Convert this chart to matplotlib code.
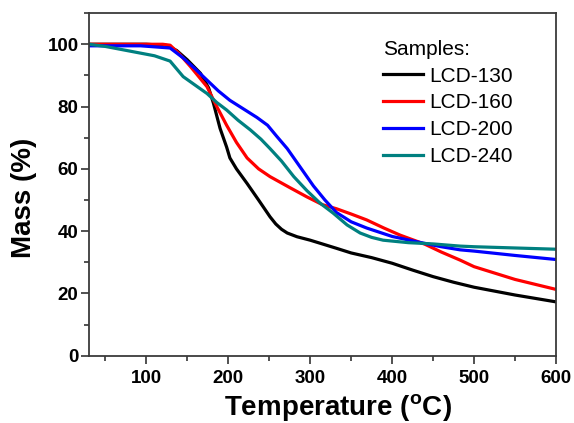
import matplotlib
matplotlib.use("Agg")
import matplotlib.pyplot as plt
from matplotlib.ticker import MultipleLocator

plt.rcParams['font.family'] = ['Liberation Sans', 'DejaVu Sans']
plt.rcParams['mathtext.fontset'] = 'custom'
plt.rcParams['mathtext.rm'] = 'Liberation Sans:bold'
plt.rcParams['mathtext.bf'] = 'Liberation Sans:bold'

t_130 = [30, 100, 125, 137, 150, 166, 176, 182, 190, 198, 202, 210, 223, 237, 251, 258, 265, 272, 284, 300, 332, 350, 375, 400, 425, 450, 475, 500, 550, 600]
m_130 = [100, 100, 99.6, 98, 95, 90.7, 86, 81, 73, 67, 63.5, 60, 55.3, 50, 44.6, 42.3, 40.6, 39.4, 38.2, 37.1, 34.5, 33, 31.5, 29.7, 27.5, 25.4, 23.6, 22, 19.5, 17.3]

t_160 = [30, 100, 120, 129, 140, 154, 174, 186, 198, 210, 223, 237, 251, 275, 296, 315, 332, 350, 369, 390, 410, 440, 460, 483, 500, 550, 600]
m_160 = [100, 100, 100, 99.7, 97, 92.8, 86.4, 80, 74, 68.5, 63.5, 60, 57.5, 54, 51, 48.5, 47.2, 45.5, 43.6, 41, 38.7, 35.8, 33.3, 30.7, 28.6, 24.5, 21.3]

t_200 = [30, 93, 129, 145, 160, 174, 188, 202, 220, 235, 248, 259, 272, 284, 304, 318, 332, 350, 369, 400, 430, 460, 483, 500, 550, 600]
m_200 = [99.5, 99.5, 98.8, 95.6, 92, 88.5, 85, 82, 79, 76.5, 74, 70.5, 66.5, 62, 54.5, 50, 46, 43, 41, 38.3, 36.6, 35, 34, 33.6, 32.2, 30.9]

t_240 = [30, 50, 84, 110, 129, 145, 160, 174, 186, 198, 212, 227, 240, 251, 265, 280, 296, 312, 328, 345, 361, 375, 389, 420, 450, 483, 500, 550, 600]
m_240 = [100, 99.3, 97.6, 96.3, 94.6, 89.6, 86.8, 84.2, 81.3, 78.9, 75.6, 72.5, 69.5, 66.5, 62.5, 57.5, 53, 49, 45.8, 42, 39.4, 38, 37.1, 36.3, 35.9, 35.2, 35, 34.6, 34.2]

labels = ['LCD-130', 'LCD-160', 'LCD-200', 'LCD-240']
colors = ['#000000', '#ff0000', '#0000ff', '#008080']

fig = plt.figure(figsize=(5.74, 4.23), dpi=100)
ax = fig.add_axes([0.155, 0.159, 0.8136, 0.81])

for t, m, lab, c in zip([t_130, t_160, t_200, t_240], [m_130, m_160, m_200, m_240], labels, colors):
    ax.plot(t, m, color=c, lw=2.3, label=lab, solid_joinstyle='round')

ax.set_xlim(30, 600)
ax.set_ylim(0, 110)
ax.xaxis.set_major_locator(MultipleLocator(100))
ax.xaxis.set_minor_locator(MultipleLocator(50))
ax.yaxis.set_major_locator(MultipleLocator(20))
ax.yaxis.set_minor_locator(MultipleLocator(10))
ax.tick_params(which='both', direction='out', top=False, right=False, color='#333333', width=1.2)
ax.tick_params(which='major', length=5.5, labelsize=13.5)
ax.tick_params(which='minor', length=3.3)
ax.tick_params(axis='y', which='major', pad=2)
ax.tick_params(axis='x', which='major', pad=4.5)
for lbl in ax.get_xticklabels() + ax.get_yticklabels():
    lbl.set_fontweight('bold')
for s in ax.spines.values():
    s.set_color('#3a3a3a')
    s.set_linewidth(1.3)

ax.set_xlabel(r'Temperature ($^{\rm o}$C)', fontsize=20, fontweight='bold')
ax.xaxis.set_label_coords(0.533, -0.108)
ax.set_ylabel('Mass (%)', fontsize=20, fontweight='bold')
ax.yaxis.set_label_coords(-0.112, 0.46)

leg = ax.legend(title='Samples:', loc='upper left', bbox_to_anchor=(383/574, 1-40/423),
                bbox_transform=fig.transFigure, frameon=False, borderpad=0, borderaxespad=0,
                fontsize=15, title_fontsize=15, handlelength=1.92, handletextpad=0.3,
                labelspacing=0.37, alignment='left')

fig.savefig('out.png', dpi=100)
